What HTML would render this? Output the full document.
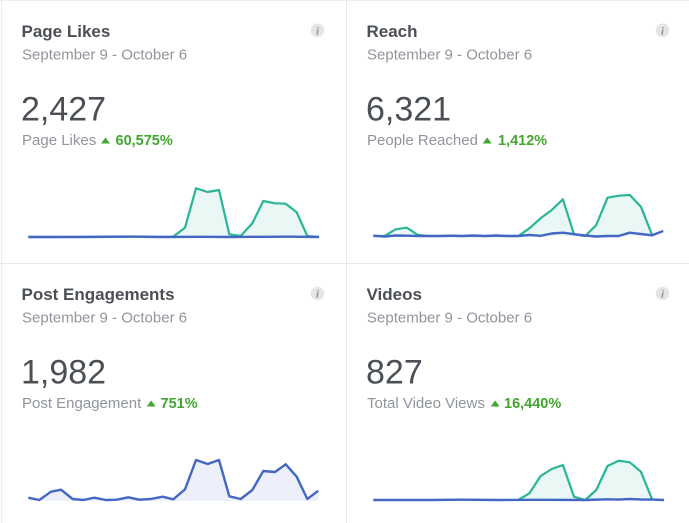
<!DOCTYPE html>
<html><head><meta charset="utf-8"><style>
html,body{margin:0;padding:0;background:#fff;}
svg{display:block;}
text{font-family:"Liberation Sans",Arial,sans-serif;}
.t{font-size:17px;font-weight:bold;fill:#4b4f56;}
.d{font-size:15px;fill:#90949c;}
.n{font-size:34px;fill:#4b4f56;}
.s{font-size:15px;fill:#90949c;}
.g{font-size:14.5px;font-weight:bold;fill:#42a72c;}
.ic{fill:#e4e5e6;}
.ii{font-family:"Liberation Serif",serif;font-size:11px;font-style:italic;font-weight:bold;fill:#8d9096;}
.tl{fill:none;stroke:#2ab597;stroke-width:2.2;stroke-linejoin:round;}
.tf{fill:#e9f8f4;stroke:none;}
.bl{fill:none;stroke:#4467c4;stroke-width:2.4;stroke-linejoin:round;}
.bf{fill:#edf0fb;stroke:none;}
</style></head><body>
<svg width="689" height="523" viewBox="0 0 689 523" xmlns="http://www.w3.org/2000/svg">
<rect x="0" y="0" width="689" height="523" fill="#fff"/>
<line x1="0" y1="0.5" x2="689" y2="0.5" stroke="#eceef1" stroke-width="1"/>
<line x1="1.5" y1="0" x2="1.5" y2="523" stroke="#eceef1" stroke-width="1"/>
<line x1="346.5" y1="0" x2="346.5" y2="523" stroke="#e6e8eb" stroke-width="1"/>
<line x1="0" y1="263.5" x2="689" y2="263.5" stroke="#e6e8eb" stroke-width="1"/>

<!-- Page Likes -->
<text class="t" x="21.5" y="37">Page Likes</text>
<text class="d" x="22" y="59.5">September 9 - October 6</text>
<text class="n" x="21" y="120.7">2,427</text>
<text class="s" x="22" y="145">Page Likes</text>
<polygon points="101,143.5 110,143.5 105.5,137.5" fill="#42a72c"/>
<text class="g" x="115.5" y="145">60,575%</text>
<circle class="ic" cx="317.5" cy="30.3" r="6.8"/>
<text class="ii" x="316" y="34.3">i</text>

<path class="tf" d="M28.3,237 L173,236.7 L185,227.7 L196,188.3 L207.7,192 L219,190 L229.3,234.3 L240.7,236 L252.3,223.3 L263.3,201 L275,203.3 L285.7,203.7 L296.7,212.3 L307.3,236 L319,237 Z"/>
<polyline class="tl" points="28.3,237 173,236.7 185,227.7 196,188.3 207.7,192 219,190 229.3,234.3 240.7,236 252.3,223.3 263.3,201 275,203.3 285.7,203.7 296.7,212.3 307.3,236 319,237"/>
<polyline class="bl" points="28.3,237 80,237 130,236.6 160,237 200,236.8 230,237 260,236.8 290,236.7 319,237"/>

<!-- Reach -->
<text class="t" x="366.5" y="37">Reach</text>
<text class="d" x="367" y="59.5">September 9 - October 6</text>
<text class="n" x="366" y="120.7">6,321</text>
<text class="s" x="367" y="145">People Reached</text>
<polygon points="482.7,143.5 491.7,143.5 487.2,137.5" fill="#42a72c"/>
<text class="g" x="498" y="145">1,412%</text>
<circle class="ic" cx="662.5" cy="30.3" r="6.8"/>
<text class="ii" x="661" y="34.3">i</text>

<path class="tf" d="M373.3,236 L384.5,236 L395.6,229.3 L406.8,227.7 L417.9,235 L429.1,236 L518.3,236 L529.4,228.3 L540.6,218.3 L551.7,210 L562.9,199.3 L574,234.3 L585.2,236 L596.3,225 L607.5,197.7 L618.6,195.7 L629.8,195 L640.9,206.7 L652.1,235 L663.2,236 Z"/>
<polyline class="tl" points="373.3,236 384.5,236 395.6,229.3 406.8,227.7 417.9,235 429.1,236 518.3,236 529.4,228.3 540.6,218.3 551.7,210 562.9,199.3 574,234.3 585.2,236 596.3,225 607.5,197.7 618.6,195.7 629.8,195 640.9,206.7 652.1,235"/>
<polyline class="bl" points="373.3,235.7 384.5,236.5 395.6,235.5 406.8,235.7 417.9,236 429.1,236 440.2,236 451.4,235.7 462.5,236 473.7,235.5 484.8,236 496,235.5 507.1,236 518.3,236 529.4,235 540.6,235.8 551.7,233.5 562.9,232.7 574,234.2 585.2,235.5 596.3,236.5 607.5,236 618.6,236 629.8,232.7 640.9,234 652.1,235.3 663.2,231"/>

<!-- Post Engagements -->
<text class="t" x="21.5" y="300">Post Engagements</text>
<text class="d" x="22" y="322.5">September 9 - October 6</text>
<text class="n" x="21" y="383.7">1,982</text>
<text class="s" x="22" y="408">Post Engagement</text>
<polygon points="146.7,406.5 155.7,406.5 151.2,400.5" fill="#42a72c"/>
<text class="g" x="160.5" y="408">751%</text>
<circle class="ic" cx="317.5" cy="293.5" r="6.8"/>
<text class="ii" x="316" y="297.5">i</text>

<path class="bf" d="M28.3,497.7 L39.3,500 L51,491.7 L61,489.7 L72.7,499 L83.3,500 L94.3,497.7 L106,500 L116.7,499.7 L128.3,497.3 L139.3,499.7 L150.7,499 L162.7,496.7 L173.3,499.3 L185,489.3 L196,460 L207.7,464 L219,460 L229.3,496.3 L240.7,499 L252.3,490 L263.3,471 L275,472 L285.7,464.3 L296.7,476.7 L307.3,499 L318.3,490.7 L318.3,501 L28.3,501 Z"/>
<polyline class="bl" points="28.3,497.7 39.3,500 51,491.7 61,489.7 72.7,499 83.3,500 94.3,497.7 106,500 116.7,499.7 128.3,497.3 139.3,499.7 150.7,499 162.7,496.7 173.3,499.3 185,489.3 196,460 207.7,464 219,460 229.3,496.3 240.7,499 252.3,490 263.3,471 275,472 285.7,464.3 296.7,476.7 307.3,499 318.3,490.7"/>

<!-- Videos -->
<text class="t" x="366.5" y="300">Videos</text>
<text class="d" x="367" y="322.5">September 9 - October 6</text>
<text class="n" x="366" y="383.7">827</text>
<text class="s" x="367" y="408">Total Video Views</text>
<polygon points="490.7,406.5 499.7,406.5 495.2,400.5" fill="#42a72c"/>
<text class="g" x="504" y="408">16,440%</text>
<circle class="ic" cx="662.5" cy="293.5" r="6.8"/>
<text class="ii" x="661" y="297.5">i</text>

<path class="tf" d="M373.3,500 L518.3,500 L529.4,493.3 L540.6,476 L551.7,469 L562.9,465 L574,496.7 L585.2,500 L596.3,490 L607.5,466 L618.6,460.7 L629.8,462.3 L640.9,471.7 L652.1,499.3 L663.2,500 Z"/>
<polyline class="tl" points="518.3,500 529.4,493.3 540.6,476 551.7,469 562.9,465 574,496.7 585.2,500 596.3,490 607.5,466 618.6,460.7 629.8,462.3 640.9,471.7 652.1,499.3"/>
<polyline class="bl" points="373.3,500 430,500 460,499.7 500,500 540,499.8 585.2,500 607.5,499.3 618.6,499.6 629.8,499 640.9,499.5 652.1,499.6 664,500"/>
</svg>
</body></html>
